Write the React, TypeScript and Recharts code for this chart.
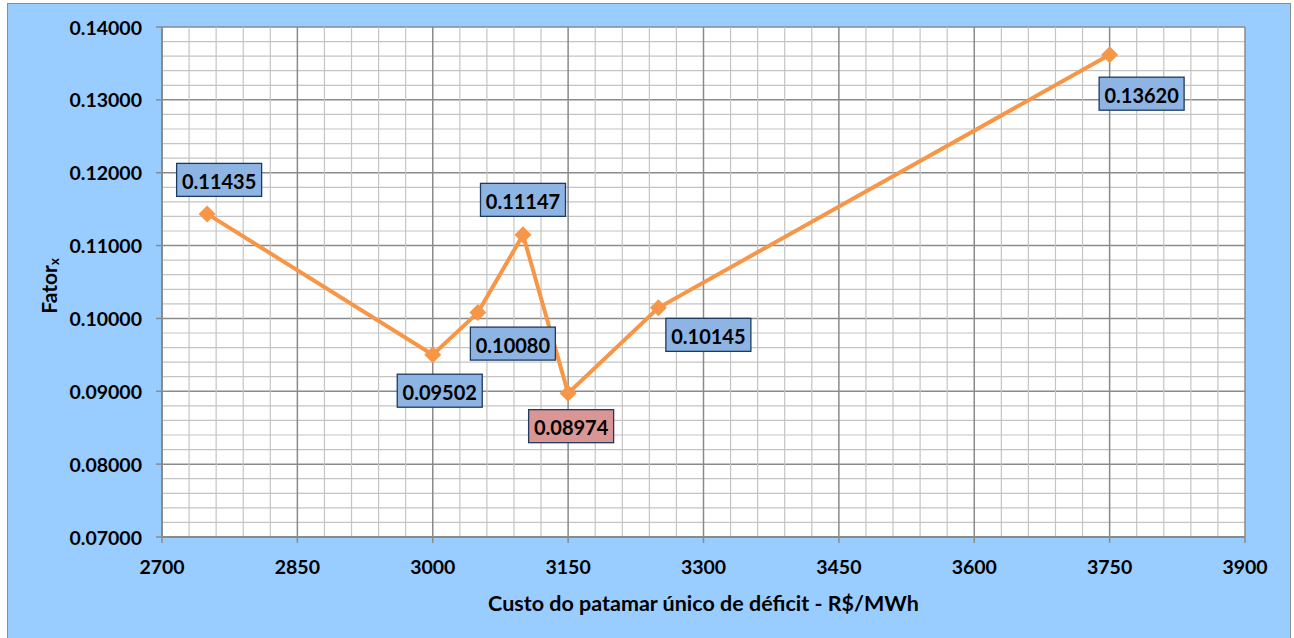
import React from "react";
import { LineChart, Line, XAxis, YAxis, CartesianGrid, LabelList, Label } from "recharts";

// ---- data ----
const custos = [2750, 3000, 3050, 3100, 3150, 3250, 3750];
const fatores = [0.11435, 0.09502, 0.1008, 0.11147, 0.08974, 0.10145, 0.1362];
const xMajorTicks = [2700, 2850, 3000, 3150, 3300, 3450, 3600, 3750, 3900];
const yMajorTicks = [0.07, 0.08, 0.09, 0.1, 0.11, 0.12, 0.13, 0.14];
const xTitle = "Custo do patamar único de déficit - R$/MWh";
const yTitle = "Fator";
const yTitleSub = "x";

const data = custos.map((c, i) => ({ custo: c, fator: fatores[i] }));

// minor ticks (5 subdivisions between majors)
const subdivide = (majors: number[], digits: number) => {
  const out: number[] = [];
  for (let i = 0; i < majors.length - 1; i++) {
    const a = majors[i];
    const b = majors[i + 1];
    for (let k = 0; k < 5; k++) out.push(Number((a + ((b - a) * k) / 5).toFixed(digits)));
  }
  out.push(majors[majors.length - 1]);
  return out;
};
const xTicks = subdivide(xMajorTicks, 0);
const yTicks = subdivide(yMajorTicks, 4);

// ---- layout / style ----
const W = 1282;
const H = 636;
const FONT = "Lato, 'Open Sans', sans-serif";
const ORANGE = "#F79646";
const MAJOR = "#8A8A8A";
const MINOR = "#C4C4C4";
const labelOffsets = [
  [12, -34],
  [7, 36],
  [35, 31],
  [0, -35],
  [3, 33],
  [50, 27],
  [32, 39],
];
const minVal = Math.min(...fatores);

const XTick = (props: any) => {
  const { x, y, payload, index } = props;
  if (index % 5 !== 0) return null;
  return (
    <g>
      <line x1={x} x2={x} y1={y - 29} y2={y - 23} stroke={MAJOR} strokeWidth={1.5} />
      <text x={x} y={y} textAnchor="middle" dominantBaseline="central" fontFamily={FONT} fontWeight={700} fontSize={19.5} fill="#000">
        {payload.value}
      </text>
    </g>
  );
};

const YTick = (props: any) => {
  const { x, y, payload, index } = props;
  if (index % 5 !== 0) return null;
  return (
    <g>
      <line x1={x + 14} x2={x + 20} y1={y} y2={y} stroke={MAJOR} strokeWidth={1.5} />
      <text x={x} y={y} textAnchor="end" dominantBaseline="central" fontFamily={FONT} fontWeight={700} fontSize={19.5} fill="#000">
        {Number(payload.value).toFixed(5)}
      </text>
    </g>
  );
};

const gridLine = (props: any) => {
  const { x1, x2, y1, y2, index } = props;
  const major = index % 5 === 0;
  return (
    <line
      key={props.key}
      x1={x1}
      x2={x2}
      y1={y1}
      y2={y2}
      stroke={major ? MAJOR : MINOR}
      strokeWidth={major ? 1.5 : 1.2}
    />
  );
};

const Diamond = (props: any) => {
  const { cx, cy, index } = props;
  if (cx == null || cy == null) return null;
  const r = 8.5;
  return <path key={`d-${index}`} d={`M${cx},${cy - r} L${cx + r},${cy} L${cx},${cy + r} L${cx - r},${cy} Z`} fill={ORANGE} />;
};

const DataLabel = (props: any) => {
  const { x, y, value, index } = props;
  if (x == null || y == null) return null;
  const [dx, dy] = labelOffsets[index] || [0, -30];
  const cx = x + dx;
  const cy = y + dy;
  const bw = 85;
  const bh = 33;
  const fill = value === minVal ? "#DA9694" : "#8DB4E2";
  return (
    <g>
      <rect x={cx - bw / 2} y={cy - bh / 2} width={bw} height={bh} fill={fill} stroke="#1F3A5F" strokeWidth={1.3} />
      <text x={cx} y={cy + 1} textAnchor="middle" dominantBaseline="central" fontFamily={FONT} fontWeight={700} fontSize={20} fill="#000">
        {Number(value).toFixed(5)}
      </text>
    </g>
  );
};

const XTitle = (props: any) => {
  const vb = props.viewBox;
  return (
    <text x={vb.x + vb.width / 2} y={vb.y + 66} textAnchor="middle" dominantBaseline="central" fontFamily={FONT} fontWeight={700} fontSize={21.5} fill="#000">
      {xTitle}
    </text>
  );
};

const YTitle = (props: any) => {
  const vb = props.viewBox;
  const x = vb.x + 26;
  const y = vb.y + vb.height / 2 + 4;
  return (
    <text x={x} y={y} transform={`rotate(-90 ${x} ${y})`} textAnchor="middle" dominantBaseline="central" fontFamily={FONT} fontWeight={700} fontSize={21} fill="#000">
      {yTitle}
      <tspan fontSize={13} dy={6}>
        {yTitleSub}
      </tspan>
    </text>
  );
};

export default function App() {
  return (
    <div
      style={{
        position: "absolute",
        left: 7,
        top: 3,
        width: W,
        height: H,
        background: "#99CCFF",
        border: "1px solid #8C8C8C",
      }}
    >
      <LineChart width={W} height={H} data={data} margin={{ top: 23, right: 45, bottom: 43, left: 14 }}>
        <CartesianGrid fill="#FFFFFF" horizontal={gridLine} vertical={gridLine} />
        <XAxis
          dataKey="custo"
          type="number"
          domain={[2700, 3900]}
          ticks={xTicks}
          interval={0}
          tick={<XTick />}
          tickLine={false}
          tickSize={5}
          tickMargin={24}
          axisLine={{ stroke: MAJOR, strokeWidth: 2 }}
          height={60}
        >
          <Label content={<XTitle />} />
        </XAxis>
        <YAxis
          dataKey="fator"
          type="number"
          domain={[0.07, 0.14]}
          ticks={yTicks}
          interval={0}
          tick={<YTick />}
          tickLine={false}
          tickSize={5}
          tickMargin={15}
          axisLine={{ stroke: MAJOR, strokeWidth: 2 }}
          width={140}
        >
          <Label content={<YTitle />} />
        </YAxis>
        <Line
          type="linear"
          dataKey="fator"
          stroke={ORANGE}
          strokeWidth={4}
          dot={<Diamond />}
          activeDot={false}
          isAnimationActive={false}
        >
          <LabelList dataKey="fator" content={<DataLabel />} />
        </Line>
      </LineChart>
    </div>
  );
}
